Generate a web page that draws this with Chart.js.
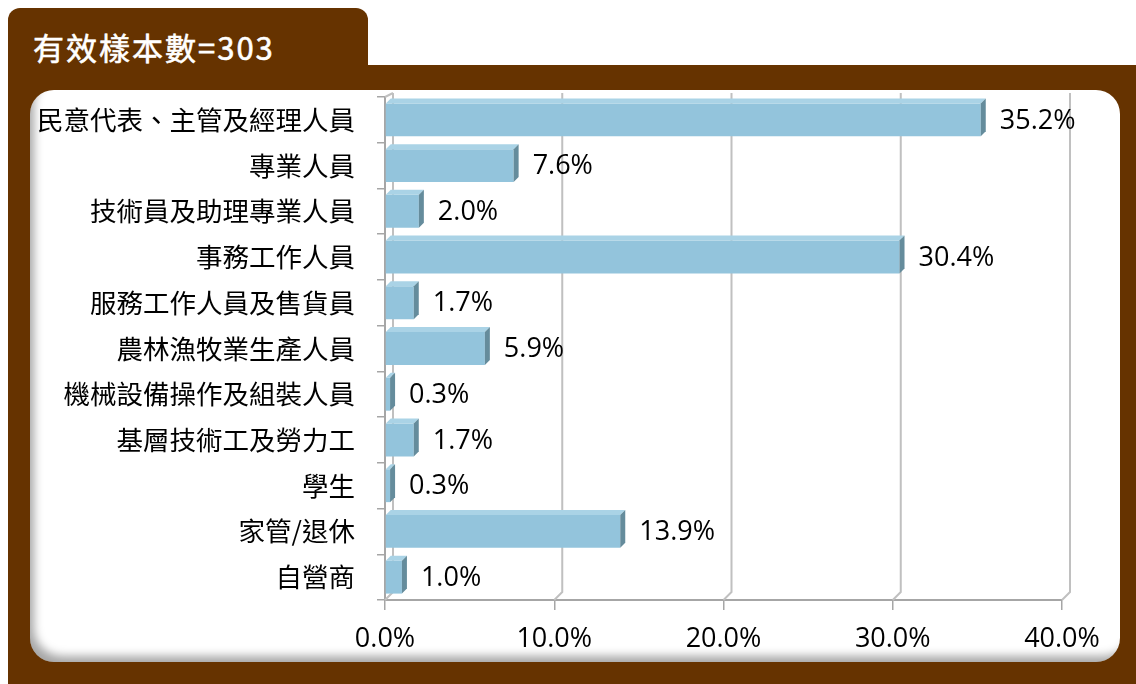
<!DOCTYPE html>
<html>
<head>
<meta charset="utf-8">
<script src="https://cdn.jsdelivr.net/npm/chart.js@4"></script>
<style>
  html, body { margin:0; padding:0; background:#ffffff; }
  body { width:1136px; height:684px; position:relative; overflow:hidden; }
  #tab { position:absolute; left:8px; top:8px; width:360px; height:70px; background:#663300; border-radius:12px 12px 0 0; }
  #main { position:absolute; left:8px; top:65px; width:1128px; height:619px; background:#663300; }
  #panel { position:absolute; left:30px; top:90px; width:1090px; height:572px; background:#ffffff; border-radius:24px;
           box-shadow: inset 8px -10px 10px -4px rgba(0,0,0,0.35); }
  #title { position:absolute; left:33px; top:26px; color:#ffffff; font-family:"Noto Sans CJK TC","Open Sans",sans-serif;
           font-size:31px; font-weight:normal; letter-spacing:2px; line-height:42px; -webkit-text-stroke:0.6px #ffffff; }
  #c { position:absolute; left:0; top:0; }
</style>
</head>
<body>
<div id="tab"></div>
<div id="main"></div>
<div id="panel"></div>
<div id="title">有效樣本數=303</div>
<canvas id="c" width="1136" height="684"></canvas>
<script>
const categories = ["民意代表、主管及經理人員","專業人員","技術員及助理專業人員","事務工作人員","服務工作人員及售貨員","農林漁牧業生產人員","機械設備操作及組裝人員","基層技術工及勞力工","學生","家管/退休","自營商"];
const values = [35.2, 7.6, 2.0, 30.4, 1.7, 5.9, 0.3, 1.7, 0.3, 13.9, 1.0];
const xTickValues = [0, 10, 20, 30, 40];

const DEPTH = 8;
const wallPlugin = {
  id: 'wall',
  beforeDatasetsDraw(chart) {
    const ctx = chart.ctx, xs = chart.scales.x, a = chart.chartArea;
    ctx.save();
    ctx.strokeStyle = '#C0C0C0';
    ctx.lineWidth = 2;
    xTickValues.forEach(v => {
      const px = xs.getPixelForValue(v);
      ctx.beginPath();
      ctx.moveTo(px, a.bottom);
      ctx.lineTo(px + DEPTH, a.bottom - DEPTH);
      ctx.lineTo(px + DEPTH, a.top - 4);
      ctx.stroke();
    });
    const p0 = xs.getPixelForValue(0);
    ctx.beginPath();
    ctx.moveTo(p0, a.top);
    ctx.lineTo(p0 + DEPTH, a.top - 4);
    ctx.stroke();
    ctx.restore();
  }
};

const bar3dPlugin = {
  id: 'bar3d',
  afterDatasetsDraw(chart) {
    const ctx = chart.ctx;
    const meta = chart.getDatasetMeta(0);
    const d = 5;
    ctx.save();
    meta.data.forEach((el, i) => {
      const p = el.getProps(['x','y','base','height'], true);
      const top = p.y - p.height / 2, bot = p.y + p.height / 2;
      ctx.fillStyle = '#AAD3E6';
      ctx.beginPath();
      ctx.moveTo(p.base, top);
      ctx.lineTo(p.base + d, top - d);
      ctx.lineTo(p.x + d, top - d);
      ctx.lineTo(p.x, top);
      ctx.closePath();
      ctx.fill();
      ctx.fillStyle = '#658C9C';
      ctx.beginPath();
      ctx.moveTo(p.x, top);
      ctx.lineTo(p.x + d, top - d);
      ctx.lineTo(p.x + d, bot - d);
      ctx.lineTo(p.x, bot);
      ctx.closePath();
      ctx.fill();
      ctx.fillStyle = '#000000';
      ctx.font = '27px "Open Sans", "Noto Sans CJK TC", sans-serif';
      ctx.textAlign = 'left';
      ctx.textBaseline = 'middle';
      ctx.fillText(values[i].toFixed(1) + '%', p.x + 19, p.y + 1);
    });
    ctx.restore();
  }
};

new Chart(document.getElementById('c'), {
  type: 'bar',
  data: {
    labels: categories,
    datasets: [{
      data: values,
      backgroundColor: '#93C4DC',
      borderWidth: 0,
      barPercentage: 0.72,
      categoryPercentage: 1.0
    }]
  },
  options: {
    indexAxis: 'y',
    responsive: false,
    animation: false,
    events: [],
    layout: { padding: { top: 97, right: 74, bottom: 0, left: 0 } },
    plugins: { legend: { display: false }, tooltip: { enabled: false } },
    scales: {
      y: {
        offset: true,
        grid: { display: true, drawOnChartArea: false, drawTicks: true, tickLength: 8, color: '#A6A6A6', lineWidth: 1.5, offset: true },
        border: { display: true, color: '#A6A6A6', width: 2 },
        ticks: { color: '#000000', font: { size: 26.5, family: '"Noto Sans CJK TC", sans-serif' }, padding: 22 },
        afterFit(s) { s.width = 385; }
      },
      x: {
        min: 0, max: 40,
        ticks: { stepSize: 10, color: '#000000', font: { size: 27, family: '"Open Sans", sans-serif' }, padding: 13,
                 callback: v => v.toFixed(1) + '%' },
        grid: { display: true, drawOnChartArea: false, drawTicks: true, tickLength: 10, color: '#A6A6A6', lineWidth: 1.5 },
        border: { display: true, color: '#A6A6A6', width: 2 },
        afterFit(s) { s.height = 84; }
      }
    }
  },
  plugins: [wallPlugin, bar3dPlugin]
});
</script>
</body>
</html>
